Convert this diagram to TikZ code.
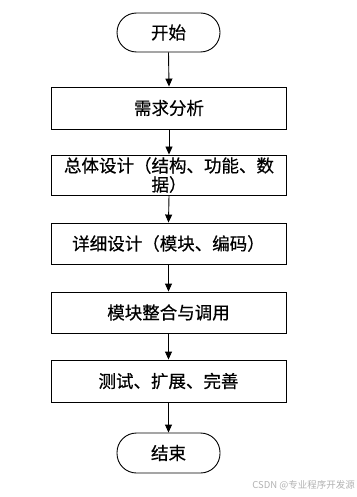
\documentclass[tikz,border=0pt]{standalone}
\usepackage{fontspec}
\newfontfamily\cjk[FakeBold=0.5]{Noto Sans CJK SC}
\newfontfamily\cjkwm{Noto Sans CJK SC}
\usetikzlibrary{arrows.meta}
\begin{document}
\begin{tikzpicture}[x=1pt,y=1pt,
  every node/.style={font=\cjk\fontsize{17.5}{19}\selectfont, inner sep=0pt, align=center},
  procbox/.style={draw=black, line width=0.9pt, minimum width=235pt},
  termbox/.style={draw=black, line width=0.9pt, rounded corners=19.5pt, minimum width=103pt, minimum height=39pt},
  flow/.style={draw=black, line width=0.9pt, -{Triangle[length=8pt,width=7pt]}}]
\useasboundingbox (0,0) rectangle (356,-497);
\node[termbox] (start) at (168.5,-32.5) {开始};
\node[procbox, minimum height=42pt] (b1) at (169,-108) {需求分析};
\node[procbox, minimum height=40pt] (b2) at (169,-175) {总体设计（结构、功能、数\\据）};
\node[procbox, minimum height=41pt] (b3) at (168.5,-243.5) {详细设计（模块、编码）};
\node[procbox, minimum height=41pt] (b4) at (168.5,-312.5) {模块整合与调用};
\node[procbox, minimum height=42pt] (b5) at (168.5,-381) {测试、扩展、完善};
\node[termbox, minimum height=40pt] (end) at (168.5,-453) {结束};
\draw[flow] (start.south) -- (b1.north);
\draw[flow] (b1.south) -- (b2.north);
\draw[flow] (b2.south) -- (b3.north);
\draw[flow] (b3.south) -- (b4.north);
\draw[flow] (b4.south) -- (b5.north);
\draw[flow] (b5.south) -- (end.north);
\node[anchor=east, text=black!30, font=\cjkwm\fontsize{9.5}{11}\selectfont] (wm) at (355,-485) {CSDN @专业程序开发源};
\end{tikzpicture}
\end{document}
